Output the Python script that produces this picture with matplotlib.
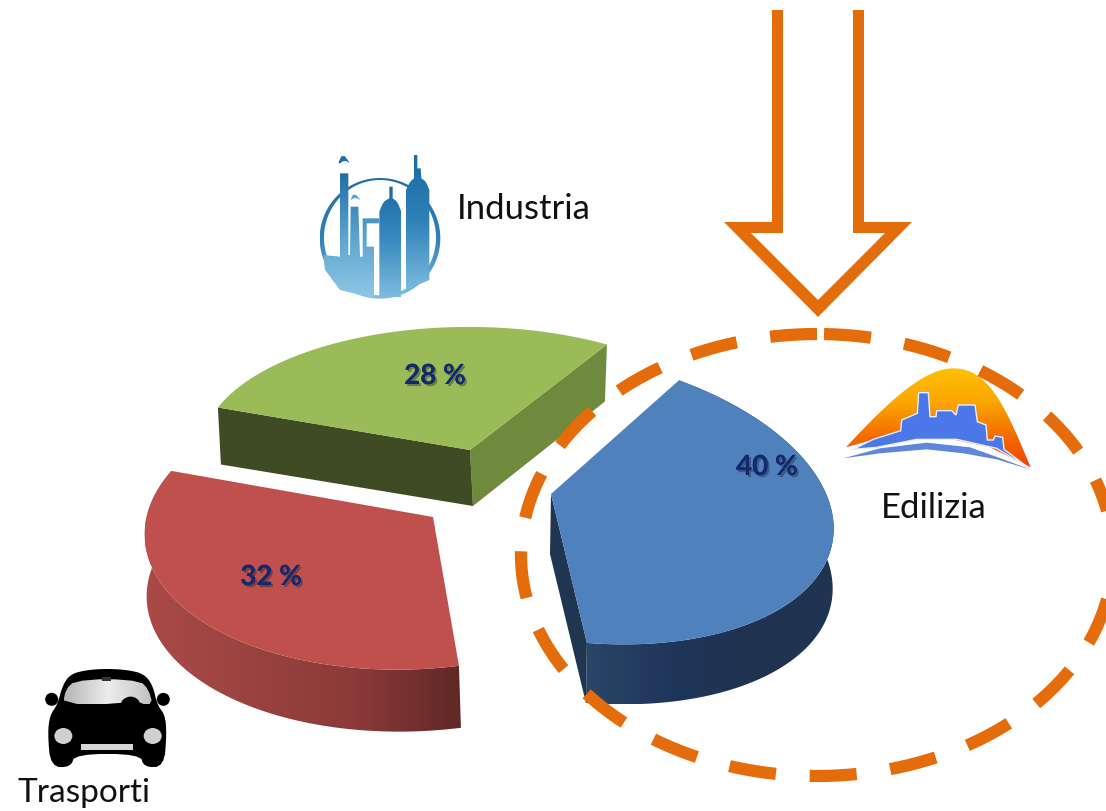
import numpy as np
import matplotlib
matplotlib.use("Agg")
import matplotlib.pyplot as plt
import matplotlib.patheffects as pe
from matplotlib.patches import Polygon, Ellipse, Circle
from matplotlib.colors import LinearSegmentedColormap

# ---- data
sectors = ["Edilizia", "Trasporti", "Industria"]
shares = [40, 32, 28]
share_labels = ["40 %", "32 %", "28 %"]

# ---- layout / style (pixel space of the figure)
W, H = 1106, 811
START = 29.0
apex = {"Edilizia": (551, 494), "Trasporti": (433, 517), "Industria": (470, 450)}
matrix = {"Edilizia": ((269.5, 3.1), (29.6, 146.4)),
          "Trasporti": ((278, -8), (-0.8, 150)),
          "Industria": ((268, -8), (4.3, 123))}
bulge = {"Edilizia": 0.05, "Trasporti": 0.065, "Industria": 0.0}
depth = {"Edilizia": (-1, 60), "Trasporti": (2, 62), "Industria": (3, 56)}
top_col = {"Edilizia": "#4f81bd", "Trasporti": "#c0504d", "Industria": "#9bbb59"}
label_pos = {"Edilizia": (767, 467), "Trasporti": (271, 577), "Industria": (435, 376)}
ORANGE = "#e46c0a"

fig = plt.figure(figsize=(W / 100, H / 100), dpi=100)
ax = fig.add_axes([0, 0, 1, 1])
ax.axis("off")


def grad(poly, stops, vertical=False, z=2):
    poly = np.asarray(poly, float)
    x0, y0 = poly.min(0)
    x1, y1 = poly.max(0)
    cm = LinearSegmentedColormap.from_list("g", stops)
    a = np.linspace(0, 1, 256)
    a = a[:, None] if vertical else a[None, :]
    im = ax.imshow(a, extent=(x0, x1, y1, y0), cmap=cm, aspect="auto", zorder=z,
                   interpolation="bilinear", origin="upper")
    p = Polygon(poly, closed=True, transform=ax.transData, fc="none", ec="none")
    ax.add_patch(p)
    im.set_clip_path(p)
    return im


def arc_pts(name, t0, t1, n=160):
    th = np.linspace(t0, t1, n)
    frac = (th - t0) / (t1 - t0)
    r = 1 + bulge[name] * np.sin(np.pi * frac)
    u = np.sin(np.radians(th)) * r
    v = -np.cos(np.radians(th)) * r
    m = np.array(matrix[name])
    return np.column_stack([apex[name][0] + m[0, 0] * u + m[0, 1] * v,
                            apex[name][1] + m[1, 0] * u + m[1, 1] * v])


def smooth(pts, it=2):
    p = np.asarray(pts, float)
    for _ in range(it):
        q = np.roll(p, -1, axis=0)
        p = np.column_stack([0.75 * p + 0.25 * q, 0.25 * p + 0.75 * q]).reshape(-1, 2)
    return p


def smooth_open(pts, it=2):
    p = np.asarray(pts, float)
    for _ in range(it):
        a, b = p[:-1], p[1:]
        mid = np.column_stack([0.75 * a + 0.25 * b, 0.25 * a + 0.75 * b]).reshape(-1, 2)
        p = np.vstack([p[0], mid, p[-1]])
    return p


angle = START
spans = {}
for s, val in zip(sectors, shares):
    spans[s] = (angle, angle + val * 3.6)
    angle += val * 3.6

# Industria (back)
arc = arc_pts("Industria", *spans["Industria"])
A = np.array(apex["Industria"], float)
d = np.array(depth["Industria"], float)
ax.add_patch(Polygon([A, arc[-1], arc[-1] + (-2, 57), A + d], fc="#6f8a3c", ec="none", zorder=2))
ax.add_patch(Polygon([arc[0], A, A + d, arc[0] + (3, 57)], fc="#3f4b23", ec="none", zorder=2))
ax.add_patch(Polygon(np.vstack([A, arc]), fc=top_col["Industria"], ec="none", zorder=3))

# Trasporti (left)
arc = arc_pts("Trasporti", *spans["Trasporti"])
A = np.array(apex["Trasporti"], float)
d = np.array(depth["Trasporti"], float)
grad(np.vstack([arc, (arc + d)[::-1]]), ["#ab4a47", "#9a4340", "#8a3a38", "#5f2826"], z=2)
ax.add_patch(Polygon(np.vstack([A, arc]), fc=top_col["Trasporti"], ec="none", zorder=3))

# Edilizia (right)
arc = arc_pts("Edilizia", *spans["Edilizia"])
A = np.array(apex["Edilizia"], float)
d = np.array(depth["Edilizia"], float)
ax.add_patch(Polygon([A, arc[-1], arc[-1] + d, A + d], fc="#1f3552", ec="none", zorder=2))
grad(np.vstack([arc, (arc + d)[::-1]]), ["#2a4668", "#20365a", "#1f3350", "#1f3552"], z=2)
ax.add_patch(Polygon(np.vstack([A, arc]), fc=top_col["Edilizia"], ec="none", zorder=3))

# share labels
for s, lab in zip(sectors, share_labels):
    x, y = label_pos[s]
    ax.text(x, y, lab, ha="center", va="center", fontsize=20, fontweight="bold",
            family="Lato", color="#12296f", zorder=5,
            path_effects=[pe.withSimplePatchShadow(offset=(1.5, -1.5), shadow_rgbFace="#222222", alpha=0.4),
                          pe.Normal()])

# sector names
for txt, x, y, fs in [("Industria", 457, 209, 25), ("Edilizia", 881, 508, 25), ("Trasporti", 18, 793, 24)]:
    ax.text(x, y, txt, ha="left", va="center", fontsize=fs, family="Lato", color="#111111", zorder=6)

# arrow (open at top)
arrow = [(772, 10), (772, 222), (724, 222), (818, 317), (912, 222), (864, 222), (864, 10),
         (853, 10), (853, 233), (885, 233), (818, 300), (751, 233), (783, 233), (783, 10)]
ax.add_patch(Polygon(arrow, fc=ORANGE, ec="none", zorder=7))

# dashed ring, drawn clockwise from the top
cx, cy, rx, ry = 817, 555, 296, 221
tt = np.linspace(np.arcsin(7 / rx), 2 * np.pi, 720)
ax.plot(cx + rx * np.sin(tt), cy - ry * np.cos(tt), color=ORANGE, lw=8.8, zorder=7,
        linestyle=(0, (3.85, 2.77)), dash_capstyle="butt")

# ---- Industria icon
ox, oy = 300, 140


def L(pts):
    return [(ox + a / 3, oy + b / 3) for a, b in pts]


ring_poly = [(240 + 181 * np.cos(t), 295 + 181 * np.sin(t)) for t in np.linspace(0, 2 * np.pi, 120)]
grad(L(ring_poly), ["#1f6ea6", "#2f82b8", "#7fbfe2"], vertical=True, z=4)
inner = [(240 + 168 * np.cos(t), 293 + 173 * np.sin(t)) for t in np.linspace(0, 2 * np.pi, 120)]
ax.add_patch(Polygon(L(inner), fc="white", ec="none", zorder=4.1))
body = [(70, 345), (120, 350), (120, 100), (145, 100), (145, 345), (150, 345), (152, 200), (175, 200), (180, 350),
        (188, 350), (188, 235), (238, 235), (238, 250), (200, 250), (200, 320), (222, 320), (222, 475), (120, 450),
        (75, 390)]
grad(L(body), ["#1f6ea6", "#5aa3cf", "#8fc7e6"], vertical=True, z=4.2)
tower1 = np.vstack([[(238, 468)], smooth_open([(238, 215), (250, 185), (268, 175)], 2), [(268, 140), (278, 140)],
                    smooth_open([(278, 175), (292, 185), (304, 215)], 2), [(304, 472)]])
grad(L(tower1), ["#1b6aa3", "#3a8cc0", "#7dbbde"], vertical=True, z=4.2)
tower2 = np.vstack([[(318, 450)], smooth_open([(318, 150), (330, 125), (342, 115)], 2),
                    [(342, 45), (352, 45), (352, 85), (362, 85)],
                    smooth_open([(364, 115), (378, 125), (388, 150)], 2), [(388, 420)]])
grad(L(tower2), ["#1b6aa3", "#2f82b8", "#7dbbde"], vertical=True, z=4.2)
ax.add_patch(Polygon(L(smooth([(112, 75), (128, 40), (152, 72), (135, 60)], 1)), fc="#1f6ea6", ec="none", zorder=4.3))
ax.add_patch(Polygon(L(smooth([(150, 182), (162, 158), (184, 182), (165, 172)], 1)), fc="#5aa3cf", ec="none", zorder=4.3))

# ---- Trasporti icon
ox, oy = 0, 650
car_body = [(172, 165), (188, 105), (212, 72), (260, 60), (320, 56), (385, 60), (432, 72), (458, 105), (472, 165),
            (495, 195), (500, 250), (492, 350), (432, 352), (420, 312), (225, 312), (212, 352), (152, 350), (143, 250),
            (150, 195)]
ax.add_patch(Polygon(L(smooth(car_body, 2)), fc="black", ec="none", zorder=4))
for mx in (155, 490):
    ax.add_patch(Circle((ox + mx / 3, oy + 148 / 3), 6.5, fc="black", ec="none", zorder=4))
wind = [(188, 162), (198, 118), (222, 94), (320, 86), (422, 94), (445, 118), (458, 162), (422, 162), (412, 145),
        (390, 138), (368, 148), (362, 162)]
grad(L(smooth(wind, 1)), ["#b5b5b5", "#ececec", "#c0c0c0"], z=4.1)
ax.add_patch(Polygon(L([(306, 82), (334, 82), (334, 94), (306, 94)]), fc="#333333", ec="none", zorder=4.2))
for hx in (190, 458):
    ax.add_patch(Ellipse((ox + hx / 3, oy + 258 / 3), 18, 16, fc="#d0d0d0", ec="none", zorder=4.1))
ax.add_patch(Polygon(L([(243, 282), (398, 282), (398, 300), (243, 300)]), fc="#d5d5d5", ec="none", zorder=4.1))

# ---- Edilizia icon
ox, oy = 830, 360
s = np.linspace(0, 1, 40)[:, None]


def bez(p0, p1, p2, p3):
    p0, p1, p2, p3 = map(np.array, (p0, p1, p2, p3))
    return (1 - s) ** 3 * p0 + 3 * (1 - s) ** 2 * s * p1 + 3 * (1 - s) * s ** 2 * p2 + s ** 3 * p3


dome_left = bez((48, 262), (170, 130), (280, 25), (370, 25))
dome_right = bez((370, 25), (480, 25), (530, 150), (602, 322))
dome_low = [(480, 262), (320, 228), (180, 225)]
grad(L(np.vstack([dome_left, dome_right, dome_low])), ["#ffc000", "#fba800", "#f47000", "#ee4400"], vertical=True, z=4)
skyline = [(70, 268), (130, 238), (212, 212), (215, 180), (262, 160), (266, 98), (295, 98), (300, 170), (318, 170),
           (320, 152), (365, 152), (378, 165), (385, 135), (435, 135), (442, 185), (468, 195), (472, 240), (490, 240),
           (495, 228), (518, 232), (522, 268), (598, 325), (500, 265), (380, 238), (260, 238), (140, 262)]
ax.add_patch(Polygon(L(skyline), fc="#4a78e8", ec="#e8eefc", lw=1, zorder=4.1))
band = [(40, 295), (150, 265), (290, 248), (420, 262), (520, 298), (605, 330), (500, 298), (400, 280), (290, 268),
        (150, 280)]
ax.add_patch(Polygon(L(band), fc="#5f85dd", ec="none", zorder=4.1))

ax.set_xlim(0, W)
ax.set_ylim(H, 0)
fig.savefig("out.png", dpi=100, facecolor="white")
